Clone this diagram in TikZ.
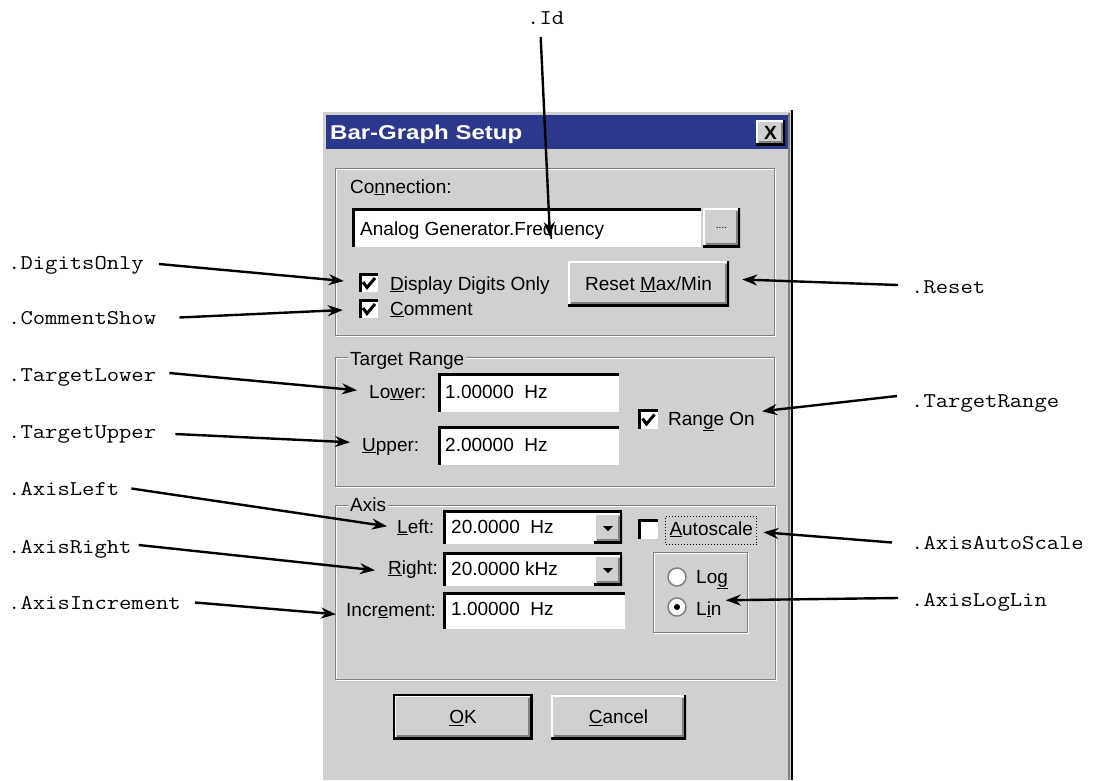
\documentclass[tikz,border=0pt]{standalone}
\usepackage{xcolor}
\usepackage{fontspec}
\setmainfont{Liberation Sans}
\usetikzlibrary{arrows.meta}

\definecolor{dlg}{RGB}{208,208,208}
\definecolor{titlebar}{RGB}{44,56,140}
\definecolor{edge}{RGB}{128,128,128}
\newcommand{\propname}[1]{\scalebox{1.14}[1]{#1}}

\tikzset{
  ui/.style={font=\fontsize{19}{22}\selectfont, inner sep=0pt, text height=13.5pt, text depth=0pt, anchor=base west},
  prop/.style={font=\ttfamily\fontsize{21}{24}\selectfont, inner sep=0pt, text height=13pt, text depth=0pt, anchor=base west},
  pointer/.style={line width=2.4pt, -{Stealth[length=15pt,width=11pt]}},
  sunken/.style={fill=white, inner sep=0pt, path picture={
      \draw[black, line width=5pt] (path picture bounding box.south west) -- (path picture bounding box.north west) -- (path picture bounding box.north east);
      \draw[dlg, line width=2pt] (path picture bounding box.south west) -- (path picture bounding box.south east) -- (path picture bounding box.north east);}},
  raised/.style={ui, anchor=center, fill=dlg, path picture={
      \draw[white, line width=4pt] (path picture bounding box.south west) -- (path picture bounding box.north west) -- (path picture bounding box.north east);
      \draw[edge, line width=2pt] ([shift={(3pt,3pt)}]path picture bounding box.south west) -- ([shift={(-3pt,3pt)}]path picture bounding box.south east) -- ([shift={(-3pt,-3pt)}]path picture bounding box.north east);
      \draw[black, line width=4pt] (path picture bounding box.south west) -- (path picture bounding box.south east) -- (path picture bounding box.north east);}},
  chkbox/.style={sunken, minimum size=20pt},
  tick/.style={line width=3pt},
  radio/.style={circle, fill=white, draw=edge, line width=1.5pt, minimum size=18pt, inner sep=0pt},
  groupbox/.style={edge, line width=1pt},
}

\begin{document}
\begin{tikzpicture}[x=1pt,y=-1pt]
	\path[use as bounding box] (0,0) rectangle (1102,780);
	% dialog window
	\fill[dlg] (321,110) rectangle (793,780);
	\draw[white, line width=1.5pt] (322,780) -- (322,111) -- (790,111);
	\draw[edge, line width=1.5pt] (789,113) -- (789,780);
	\draw[black, line width=2.5pt] (792,110) -- (792,780);
	\fill[titlebar] (326,115) rectangle (788,149);
	\node[ui, font=\bfseries\fontsize{20}{24}\selectfont, text=white] (title) at (330,139) {\scalebox{1.2}[1]{Bar-Graph Setup}};
	\node[raised, minimum width=29pt, minimum height=25pt, font=\bfseries\fontsize{19}{22}\selectfont] (closebtn) at (770.5,132.5) {X};

	% connection
	\draw[white, line width=1pt] (336,169) rectangle (775,336);
	\draw[groupbox] (335,168) rectangle (774,335);
	\node[ui] (connlbl) at (350,193) {Co\underline{n}nection:};
	\node[sunken, minimum width=350pt, minimum height=40pt] (connfield) at (527,228) {};
	\node[ui] (conntext) at (360,235) {Analog Generator.Frequency};
	\node[raised, minimum width=37pt, minimum height=39pt, text height=2pt, font=\fontsize{10}{12}\selectfont] (dotsbtn) at (721.5,227.5) {....};
	\node[chkbox] (digitsbox) at (369,283) {};
	\draw[tick] ([shift={(-6pt,1pt)}]digitsbox.center) -- ([shift={(-2pt,-4.5pt)}]digitsbox.center) -- ([shift={(6pt,5pt)}]digitsbox.center);
	\node[ui] (digitslbl) at (390,290) {\underline{D}isplay Digits Only};
	\node[chkbox] (commentbox) at (369,309) {};
	\draw[tick] ([shift={(-6pt,1pt)}]commentbox.center) -- ([shift={(-2pt,-4.5pt)}]commentbox.center) -- ([shift={(6pt,5pt)}]commentbox.center);
	\node[ui] (commentlbl) at (390,315) {\underline{C}omment};
	\node[raised, minimum width=161pt, minimum height=45pt] (resetbtn) at (648.5,283.5) {Reset \underline{M}ax/Min};

	% target range
	\draw[white, line width=1pt] (336,358) rectangle (775,487);
	\draw[groupbox] (335,357) rectangle (774,486);
	\node[ui, fill=dlg, inner xsep=2pt] (rangegrp) at (348,365) {Target Range};
	\node[ui] (lowerlbl) at (369,398) {Lo\underline{w}er:};
	\node[sunken, minimum width=182pt, minimum height=40pt] (lowerfield) at (529,393) {};
	\node[ui] (lowertext) at (445,398) {1.00000\ \ Hz};
	\node[ui] (upperlbl) at (362,451) {\underline{U}pper:};
	\node[sunken, minimum width=182pt, minimum height=40pt] (upperfield) at (529,446) {};
	\node[ui] (uppertext) at (445,451) {2.00000\ \ Hz};
	\node[chkbox, minimum size=21pt] (rangebox) at (648.5,419.5) {};
	\draw[tick] ([shift={(-6pt,1pt)}]rangebox.center) -- ([shift={(-2pt,-4.5pt)}]rangebox.center) -- ([shift={(6pt,5pt)}]rangebox.center);
	\node[ui] (rangelbl) at (668,425) {Ran\underline{g}e On};

	% axis
	\draw[white, line width=1pt] (336,506) rectangle (776,680);
	\draw[groupbox] (335,505) rectangle (775,679);
	\node[ui, fill=dlg, inner xsep=2pt] (axisgrp) at (348,511) {Axis};
	\node[ui] (leftlbl) at (397,533) {\underline{L}eft:};
	\node[sunken, minimum width=180pt, minimum height=35pt] (leftcombo) at (533,527.5) {};
	\node[raised, minimum width=28pt, minimum height=30pt] (leftdrop) at (608,528) {};
	\fill ([shift={(-5pt,2pt)}]leftdrop.center) -- ([shift={(5pt,2pt)}]leftdrop.center) -- ([shift={(0pt,-3pt)}]leftdrop.center) -- cycle;
	\node[ui] (lefttext) at (451,533) {20.0000\ \ Hz};
	\node[ui] (rightlbl) at (388,574) {\underline{R}ight:};
	\node[sunken, minimum width=180pt, minimum height=35pt] (rightcombo) at (533,569.5) {};
	\node[raised, minimum width=28pt, minimum height=30pt] (rightdrop) at (608,570) {};
	\fill ([shift={(-5pt,2pt)}]rightdrop.center) -- ([shift={(5pt,2pt)}]rightdrop.center) -- ([shift={(0pt,-3pt)}]rightdrop.center) -- cycle;
	\node[ui] (righttext) at (451,575) {20.0000 kHz};
	\node[ui] (incrlbl) at (346,616) {Incr\underline{e}ment:};
	\node[sunken, minimum width=183pt, minimum height=38pt] (incrfield) at (534.5,611) {};
	\node[ui] (incrtext) at (451,615) {1.00000\ \ Hz};
	\node[chkbox, minimum size=21pt] (autobox) at (648.5,529.5) {};
	\node[ui, draw, dotted, line width=1pt, inner xsep=4pt, inner ysep=5.5pt, text depth=4pt] (autolbl) at (665,535) {\underline{A}utoscale};
	\draw[white, line width=1pt] (654,553) rectangle (748,633);
	\draw[groupbox] (653,552) rectangle (747,632);
	\node[radio] (logradio) at (677,577) {};
	\node[ui] (loglbl) at (696,583) {Lo\underline{g}};
	\node[radio] (linradio) at (677,607) {};
	\fill (linradio.center) circle (3pt);
	\node[ui] (linlbl) at (696,615) {L\underline{i}n};

	% buttons
	\node[raised, draw=black, line width=1.5pt, minimum width=138pt, minimum height=44pt] (okbtn) at (463,717) {\underline{O}K};
	\node[raised, minimum width=135pt, minimum height=44pt] (cancelbtn) at (618.5,717) {\underline{C}ancel};

	% property names
	\node[prop] (id) at (527,24) {\propname{.Id}};
	\node[prop] (digitsonly) at (8,269) {\propname{.DigitsOnly}};
	\node[prop] (commentshow) at (8,324) {\propname{.CommentShow}};
	\node[prop] (targetlower) at (8,381) {\propname{.TargetLower}};
	\node[prop] (targetupper) at (8,438) {\propname{.TargetUpper}};
	\node[prop] (axisleft) at (8,495) {\propname{.AxisLeft}};
	\node[prop] (axisright) at (8,553) {\propname{.AxisRight}};
	\node[prop] (axisincrement) at (8,609) {\propname{.AxisIncrement}};
	\node[prop] (reset) at (911,293) {\propname{.Reset}};
	\node[prop] (targetrange) at (911,407) {\propname{.TargetRange}};
	\node[prop] (axisautoscale) at (911,549) {\propname{.AxisAutoScale}};
	\node[prop] (axisloglin) at (911,606) {\propname{.AxisLogLin}};

	\draw[pointer] ([xshift=-5pt,yshift=-13pt]id.south) -- ([xshift=23pt,yshift=-9pt]connfield.center);
	\draw[pointer] ([xshift=15pt,yshift=-1.5pt]digitsonly.east) -- ([xshift=-15pt,yshift=2pt]digitsbox.west);
	\draw[pointer] ([xshift=23pt]commentshow.east) -- ([xshift=-16pt,yshift=-1pt]commentbox.west);
	\draw[pointer] ([xshift=13pt,yshift=1.5pt]targetlower.east) -- ([xshift=-12pt,yshift=1pt]lowerlbl.west);
	\draw[pointer] ([xshift=19pt,yshift=-2.5pt]targetupper.east) -- ([xshift=-12pt,yshift=2pt]upperlbl.west);
	\draw[pointer] ([xshift=12pt]axisleft.east) -- ([xshift=-10pt]leftlbl.west);
	\draw[pointer] ([xshift=7pt,yshift=1.5pt]axisright.east) -- ([xshift=-13pt,yshift=-3pt]rightlbl.west);
	\draw[pointer] ([xshift=14pt]axisincrement.east) -- ([xshift=-10pt,yshift=-5pt]incrlbl.west);
	\draw[pointer] ([xshift=-13pt,yshift=1.5pt]reset.west) -- ([xshift=13pt,yshift=4pt]resetbtn.east);
	\draw[pointer] ([xshift=-14pt,yshift=4.5pt]targetrange.west) -- ([xshift=7pt,yshift=7pt]rangelbl.east);
	\draw[pointer] ([xshift=-19pt]axisautoscale.west) -- ([xshift=6pt,yshift=-2pt]autolbl.east);
	\draw[pointer] ([xshift=-13pt,yshift=1.5pt]axisloglin.west) -- ([xshift=4pt,yshift=8pt]linlbl.east);
\end{tikzpicture}
\end{document}
